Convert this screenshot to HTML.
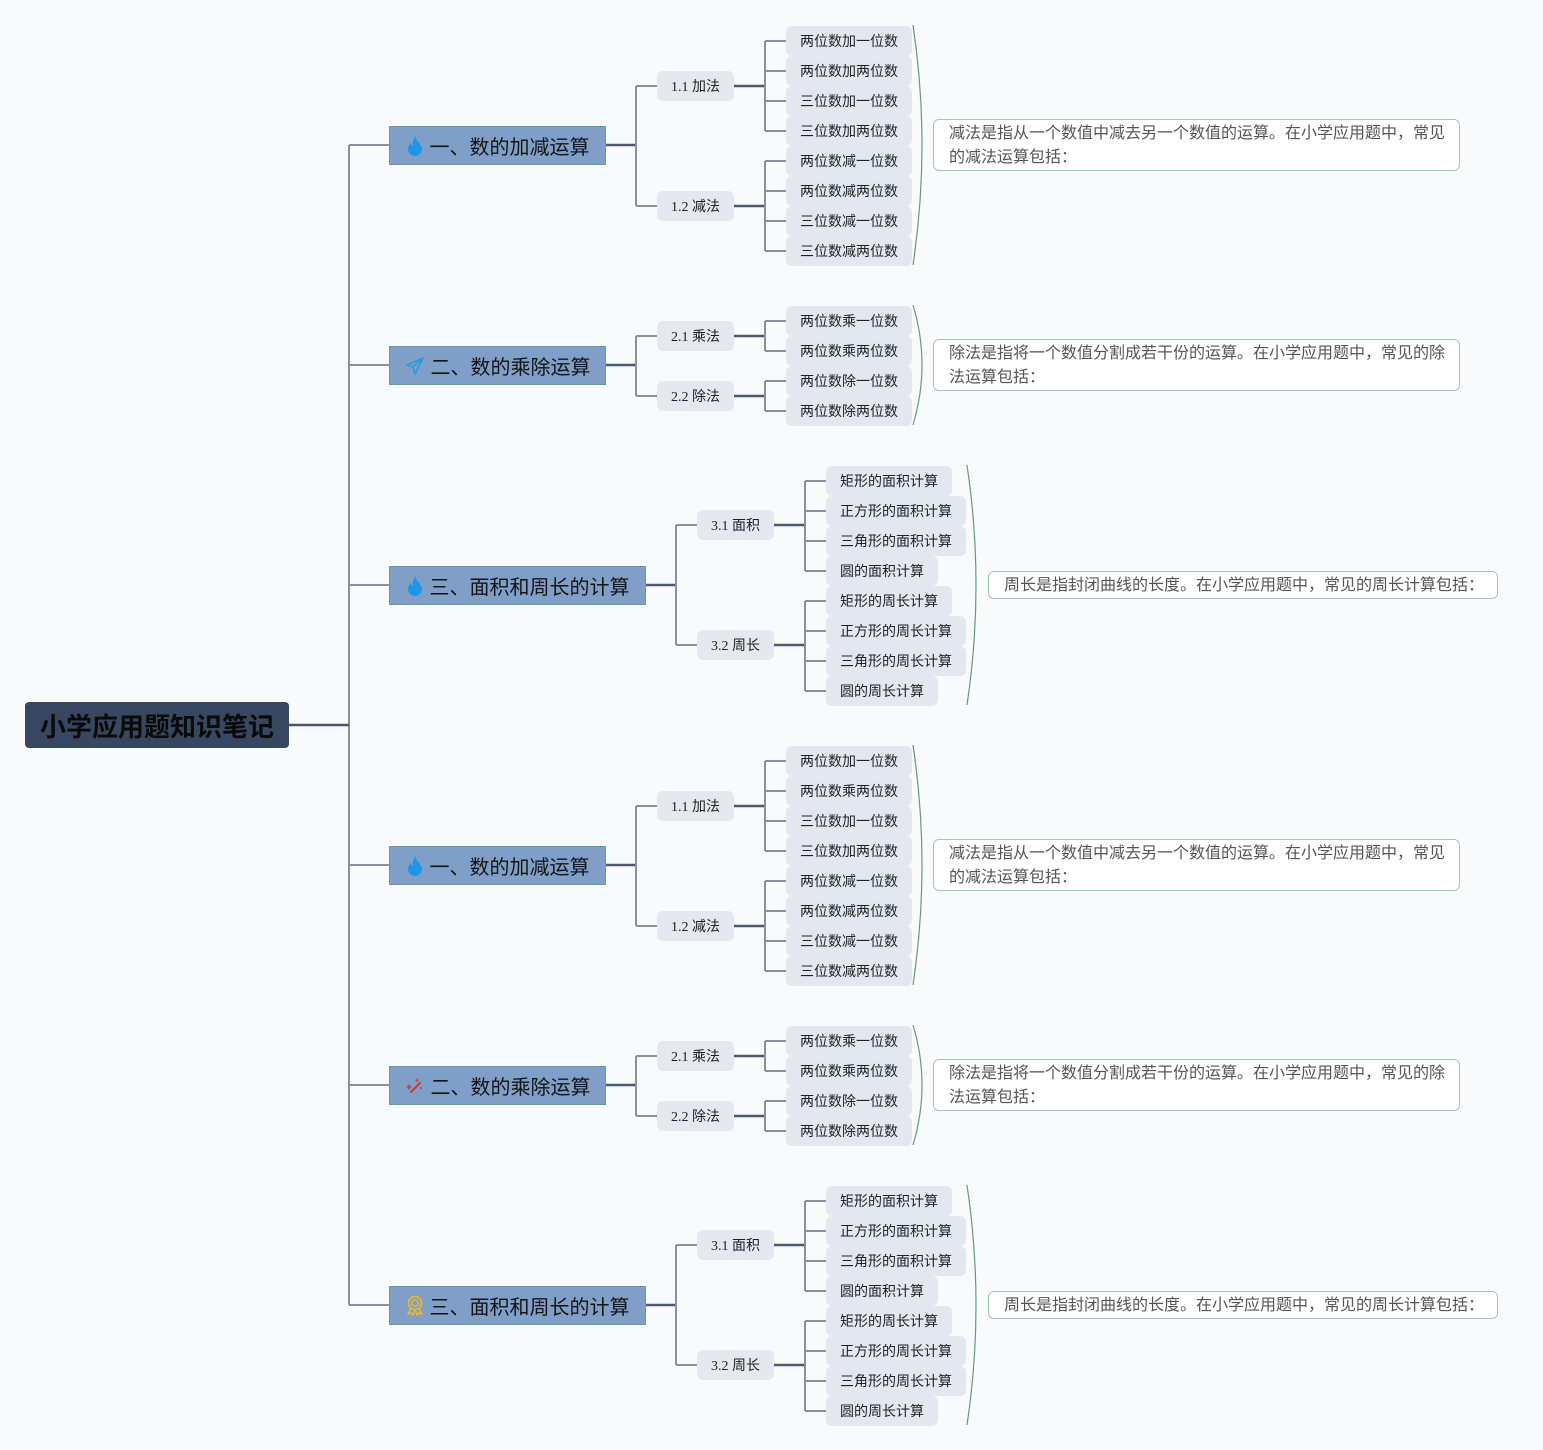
<!DOCTYPE html>
<html><head><meta charset="utf-8">
<style>
*{margin:0;padding:0;box-sizing:border-box}
html,body{width:1543px;height:1450px;background:#f9fafb;overflow:hidden}
body{position:relative;font-family:"Liberation Sans","Noto Sans CJK SC",sans-serif}
svg.lines{position:absolute;left:0;top:0}
.half{position:absolute;left:0;width:1543px;height:720px}
.root{position:absolute;left:25px;top:702px;width:264px;height:46px;background:#36475f;border-radius:4px;color:#0a0a0a;font-weight:bold;font-size:26px;display:flex;align-items:center;justify-content:center;letter-spacing:0px}
.l1{position:absolute;left:389px;height:39px;background:#7f9ec8;border:1px solid #5f9c9a;color:#151515;font-size:20px;display:flex;align-items:center;justify-content:center;white-space:nowrap}
.l1 svg{margin-right:6px}
.l2{position:absolute;width:77px;height:30px;background:#e4e9f0;border-radius:6px;font-family:"Liberation Serif","Noto Sans CJK SC",serif;font-size:14px;color:#222;display:flex;align-items:center;justify-content:center;white-space:nowrap}
.lf{position:absolute;height:30px;background:#e3e8f0;border-radius:6px;font-size:14px;color:#222;padding-left:14px;line-height:30px;white-space:nowrap}
.sm{position:absolute;background:#fff;border:1.5px solid #9fc8bb;border-radius:6px;font-size:16px;color:#555;line-height:24px;padding:2px 4px 2px 15px}
.sm.one{white-space:nowrap}
</style></head><body>
<svg class="lines" width="1543" height="1450" viewBox="0 0 1543 1450" fill="none">
<path d="M349 145V1305" stroke="#8c909c" stroke-width="2"/>
<path d="M289 725H349" stroke="#4a566a" stroke-width="2.5"/>
<g id="top">
<path d="M349 145H389M349 365H389M349 585H389" stroke="#8c909c" stroke-width="2"/>
<path d="M606 145H636M734 86H765M734 206H765" stroke="#4d5a6e" stroke-width="2.5"/>
<path d="M636 86V206M636 86H657M636 206H657M765 41V131M765 41H786M765 71H786M765 101H786M765 131H786M765 161V251M765 161H786M765 191H786M765 221H786M765 251H786" stroke="#8c909c" stroke-width="2"/>
<path d="M913 25Q931 145 913 265" stroke="#5f9c88" stroke-width="1.2"/>
<path d="M606 365H636M734 336H765M734 396H765" stroke="#4d5a6e" stroke-width="2.5"/>
<path d="M636 336V396M636 336H657M636 396H657M765 321V351M765 321H786M765 351H786M765 381V411M765 381H786M765 411H786" stroke="#8c909c" stroke-width="2"/>
<path d="M913 305Q931 365 913 425" stroke="#5f9c88" stroke-width="1.2"/>
<path d="M646 585H676M774 525H805M774 645H805" stroke="#4d5a6e" stroke-width="2.5"/>
<path d="M676 525V645M676 525H697M676 645H697M805 481V571M805 481H826M805 511H826M805 541H826M805 571H826M805 601V691M805 601H826M805 631H826M805 661H826M805 691H826" stroke="#8c909c" stroke-width="2"/>
<path d="M967 465Q985 585 967 705" stroke="#5f9c88" stroke-width="1.2"/>
</g>
<use href="#top" transform="translate(0,720)"/>
</svg>

<div class="root">小学应用题知识笔记</div>

<div class="half" style="top:0">
<div class="l1" style="top:126px;width:217px"><svg width="18" height="22" viewBox="0 0 18 22"><path d="M9 1C10 6 16 9 16 14a7 7 0 0 1-14 0c0-3 2-5 3-6 0 2 1 3 2 3C6 7 8 4 9 1z" fill="#1e98e6"/></svg>一、数的加减运算</div>
<div class="l1" style="top:346px;width:217px"><svg width="20" height="20" viewBox="0 0 20 20"><path d="M18 2L2 9l6 2 2 7 8-16zM8 11l10-9" stroke="#2a9be0" stroke-width="1.6" fill="none" stroke-linejoin="round"/></svg>二、数的乘除运算</div>
<div class="l1" style="top:566px;width:257px"><svg width="18" height="22" viewBox="0 0 18 22"><path d="M9 1C10 6 16 9 16 14a7 7 0 0 1-14 0c0-3 2-5 3-6 0 2 1 3 2 3C6 7 8 4 9 1z" fill="#1e98e6"/></svg>三、面积和周长的计算</div>

<div class="l2" style="left:657px;top:71px">1.1 加法</div>
<div class="l2" style="left:657px;top:191px">1.2 减法</div>
<div class="l2" style="left:657px;top:321px">2.1 乘法</div>
<div class="l2" style="left:657px;top:381px">2.2 除法</div>
<div class="l2" style="left:697px;top:510px">3.1 面积</div>
<div class="l2" style="left:697px;top:630px">3.2 周长</div>

<div class="lf" style="left:786px;top:26px;width:126px">两位数加一位数</div>
<div class="lf" style="left:786px;top:56px;width:126px">两位数加两位数</div>
<div class="lf" style="left:786px;top:86px;width:126px">三位数加一位数</div>
<div class="lf" style="left:786px;top:116px;width:126px">三位数加两位数</div>
<div class="lf" style="left:786px;top:146px;width:126px">两位数减一位数</div>
<div class="lf" style="left:786px;top:176px;width:126px">两位数减两位数</div>
<div class="lf" style="left:786px;top:206px;width:126px">三位数减一位数</div>
<div class="lf" style="left:786px;top:236px;width:126px">三位数减两位数</div>

<div class="lf" style="left:786px;top:306px;width:126px">两位数乘一位数</div>
<div class="lf" style="left:786px;top:336px;width:126px">两位数乘两位数</div>
<div class="lf" style="left:786px;top:366px;width:126px">两位数除一位数</div>
<div class="lf" style="left:786px;top:396px;width:126px">两位数除两位数</div>

<div class="lf" style="left:826px;top:466px;width:126px">矩形的面积计算</div>
<div class="lf" style="left:826px;top:496px;width:140px">正方形的面积计算</div>
<div class="lf" style="left:826px;top:526px;width:140px">三角形的面积计算</div>
<div class="lf" style="left:826px;top:556px;width:112px">圆的面积计算</div>
<div class="lf" style="left:826px;top:586px;width:126px">矩形的周长计算</div>
<div class="lf" style="left:826px;top:616px;width:140px">正方形的周长计算</div>
<div class="lf" style="left:826px;top:646px;width:140px">三角形的周长计算</div>
<div class="lf" style="left:826px;top:676px;width:112px">圆的周长计算</div>

<div class="sm" style="left:933px;top:119px;width:527px;height:52px">减法是指从一个数值中减去另一个数值的运算。在小学应用题中，常见<br>的减法运算包括：</div>
<div class="sm" style="left:933px;top:339px;width:527px;height:52px">除法是指将一个数值分割成若干份的运算。在小学应用题中，常见的除<br>法运算包括：</div>
<div class="sm one" style="left:988px;top:571px;width:510px;height:28px">周长是指封闭曲线的长度。在小学应用题中，常见的周长计算包括：</div>
</div>

<div class="half" style="top:720px">
<div class="l1" style="top:126px;width:217px"><svg width="18" height="22" viewBox="0 0 18 22"><path d="M9 1C10 6 16 9 16 14a7 7 0 0 1-14 0c0-3 2-5 3-6 0 2 1 3 2 3C6 7 8 4 9 1z" fill="#1e98e6"/></svg>一、数的加减运算</div>
<div class="l1" style="top:346px;width:217px"><svg width="20" height="20" viewBox="0 0 20 20"><path d="M6 16L15 7" stroke="#d23a3a" stroke-width="2.2" stroke-linecap="round"/><path d="M4 8l1 2 2 1-2 1-1 2-1-2-2-1 2-1z M12 2l.7 1.5 1.5.7-1.5.7L12 6.4l-.7-1.5-1.5-.7 1.5-.7z" fill="#d23a3a"/><circle cx="16" cy="12" r="1" fill="#d23a3a"/></svg>二、数的乘除运算</div>
<div class="l1" style="top:566px;width:257px"><svg width="18" height="22" viewBox="0 0 18 22"><circle cx="9" cy="8" r="6.5" stroke="#e6b83a" stroke-width="1.8" fill="none"/><circle cx="9" cy="8" r="3.2" stroke="#e6b83a" stroke-width="1.6" fill="none"/><path d="M5 13l-3 6 3-1 2 2 2-5M13 13l3 6-3-1-2 2-2-5" stroke="#e6b83a" stroke-width="1.6" fill="none" stroke-linejoin="round"/></svg>三、面积和周长的计算</div>

<div class="l2" style="left:657px;top:71px">1.1 加法</div>
<div class="l2" style="left:657px;top:191px">1.2 减法</div>
<div class="l2" style="left:657px;top:321px">2.1 乘法</div>
<div class="l2" style="left:657px;top:381px">2.2 除法</div>
<div class="l2" style="left:697px;top:510px">3.1 面积</div>
<div class="l2" style="left:697px;top:630px">3.2 周长</div>

<div class="lf" style="left:786px;top:26px;width:126px">两位数加一位数</div>
<div class="lf" style="left:786px;top:56px;width:126px">两位数乘两位数</div>
<div class="lf" style="left:786px;top:86px;width:126px">三位数加一位数</div>
<div class="lf" style="left:786px;top:116px;width:126px">三位数加两位数</div>
<div class="lf" style="left:786px;top:146px;width:126px">两位数减一位数</div>
<div class="lf" style="left:786px;top:176px;width:126px">两位数减两位数</div>
<div class="lf" style="left:786px;top:206px;width:126px">三位数减一位数</div>
<div class="lf" style="left:786px;top:236px;width:126px">三位数减两位数</div>

<div class="lf" style="left:786px;top:306px;width:126px">两位数乘一位数</div>
<div class="lf" style="left:786px;top:336px;width:126px">两位数乘两位数</div>
<div class="lf" style="left:786px;top:366px;width:126px">两位数除一位数</div>
<div class="lf" style="left:786px;top:396px;width:126px">两位数除两位数</div>

<div class="lf" style="left:826px;top:466px;width:126px">矩形的面积计算</div>
<div class="lf" style="left:826px;top:496px;width:140px">正方形的面积计算</div>
<div class="lf" style="left:826px;top:526px;width:140px">三角形的面积计算</div>
<div class="lf" style="left:826px;top:556px;width:112px">圆的面积计算</div>
<div class="lf" style="left:826px;top:586px;width:126px">矩形的周长计算</div>
<div class="lf" style="left:826px;top:616px;width:140px">正方形的周长计算</div>
<div class="lf" style="left:826px;top:646px;width:140px">三角形的周长计算</div>
<div class="lf" style="left:826px;top:676px;width:112px">圆的周长计算</div>

<div class="sm" style="left:933px;top:119px;width:527px;height:52px">减法是指从一个数值中减去另一个数值的运算。在小学应用题中，常见<br>的减法运算包括：</div>
<div class="sm" style="left:933px;top:339px;width:527px;height:52px">除法是指将一个数值分割成若干份的运算。在小学应用题中，常见的除<br>法运算包括：</div>
<div class="sm one" style="left:988px;top:571px;width:510px;height:28px">周长是指封闭曲线的长度。在小学应用题中，常见的周长计算包括：</div>
</div>
</body></html>
